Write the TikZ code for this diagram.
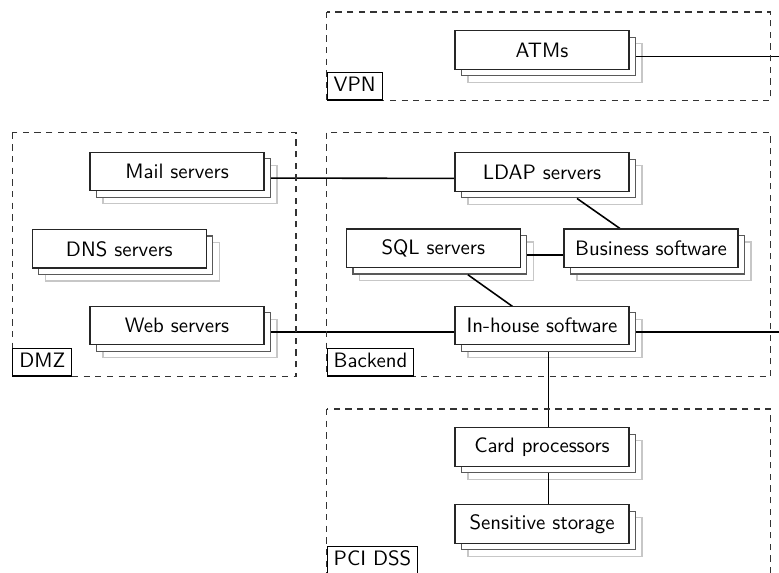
\documentclass[tikz,border=0pt]{standalone}
\usetikzlibrary{calc}
\pgfdeclarelayer{lback}
\pgfdeclarelayer{lmid}
\pgfdeclarelayer{ledge}
\pgfsetlayers{lback,lmid,ledge,main}
\tikzset{
  boxbase/.style={rectangle, fill=white, minimum width=83.5pt, minimum height=18.5pt, inner sep=0pt, font=\sffamily},
  frontbox/.style={boxbase, draw=black!85, line width=0.65pt},
  midbox/.style={boxbase, draw=black!65, line width=0.65pt},
  backbox/.style={boxbase, draw=black!22, line width=0.65pt},
  edge/.style={draw=black, line width=0.75pt},
  cluster/.style={draw=black!80, dash pattern=on 3pt off 2.6pt, line width=0.5pt},
  clabel/.style={rectangle, draw=black, fill=white, line width=0.55pt, anchor=south west, font=\sffamily, inner xsep=3.1pt, inner ysep=2pt, text height=7pt, text depth=2pt, align=left}
}
\newcommand\stackbox[4]{%
  \node[frontbox] (#1) at (#2,#3) {#4};
  \begin{pgfonlayer}{lmid}
    \node[midbox] (#1m) at ([shift={(6.5,6.5)}]#1.center) {};
  \end{pgfonlayer}
  \begin{pgfonlayer}{lback}
    \node[backbox] (#1b) at ([shift={(13,13)}]#1.center) {};
  \end{pgfonlayer}
}
\begin{document}
\begin{tikzpicture}[x=0.48pt,y=-0.48pt]
\useasboundingbox (0,0) rectangle (779,573);
\clip (0,0) rectangle (779,573);
\coordinate (re) at (779,0);
% clusters
\draw[cluster] (326.7,12) rectangle (770.7,100.5);
\node[clabel] (vpnl) at (326.7,100.5) {VPN};
\draw[cluster] (12.3,132.7) rectangle (296,376.5);
\node[clabel] (dmzl) at (12.3,376.5) {DMZ};
\draw[cluster] (326.7,132.7) rectangle (770.7,376.5);
\node[clabel] (backl) at (326.7,376.5) {Backend};
\draw[cluster] (326.7,409) rectangle (770.7,590);
\node[clabel] (pcil) at (326.7,574.5) {PCI DSS};
% nodes
\stackbox{atm}{542}{50}{ATMs}
\stackbox{mail}{177}{171.5}{Mail servers}
\stackbox{dns}{119.3}{248.8}{DNS servers}
\stackbox{web}{177}{325.5}{Web servers}
\stackbox{ldap}{542}{172}{LDAP servers}
\stackbox{sql}{433.3}{248.3}{SQL servers}
\stackbox{bus}{651}{248.3}{Business software}
\stackbox{inh}{542}{325.5}{In-house software}
\stackbox{card}{542}{447}{Card processors}
\stackbox{sens}{542}{524}{Sensitive storage}
% edges
\begin{pgfonlayer}{ledge}
\draw[edge] (atmm.east) -- (atmm.east -| re);
\draw[edge] (mailm) -- (ldapm);
\draw[edge] (ldapm) -- (busm);
\draw[edge] (sqlm) -- (busm);
\draw[edge] (sqlm) -- (inhm);
\draw[edge] (webm) -- (inhm);
\draw[edge] (inhm.east) -- (inhm.east -| re);
\draw[edge] (inhm) -- (cardm);
\draw[edge] (cardm) -- (sensm);
\end{pgfonlayer}
\end{tikzpicture}
\end{document}
